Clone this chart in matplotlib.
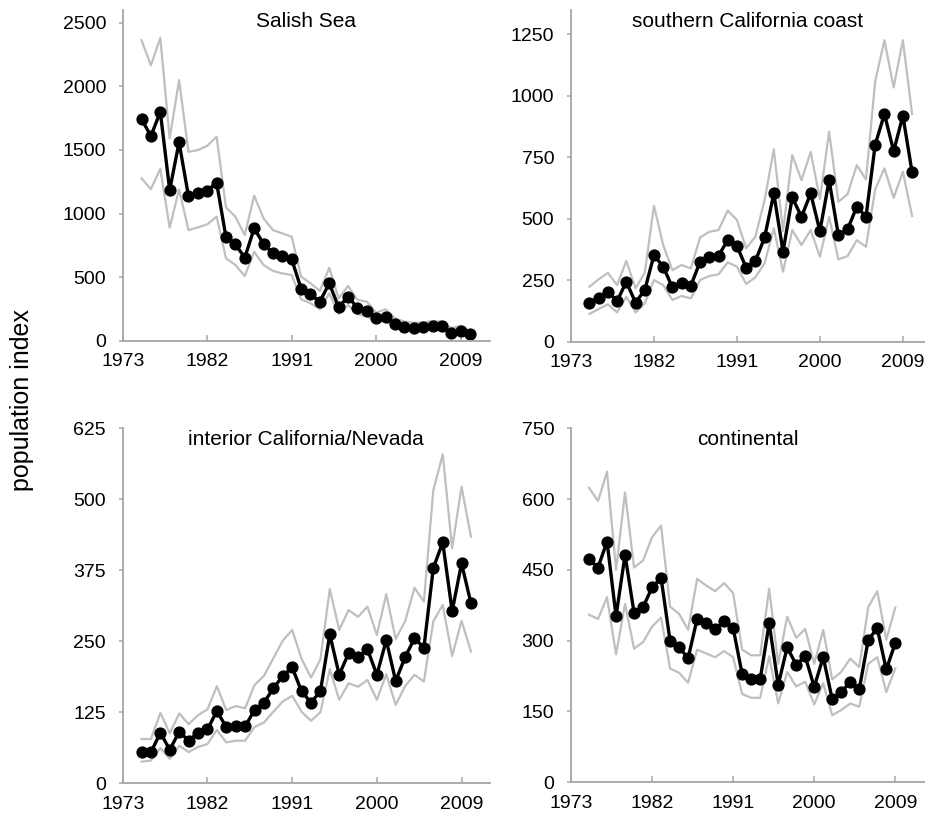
import numpy as np
import matplotlib
matplotlib.use('Agg')
import matplotlib.pyplot as plt

plt.rcParams['font.family'] = ['Liberation Sans', 'DejaVu Sans']

# years
years36 = np.arange(1975, 2011)
years35 = np.arange(1975, 2010)

# Salish Sea
salish_mean = [1743, 1609, 1800, 1185, 1560, 1138, 1159, 1180, 1243, 814, 759, 654, 885, 761, 688, 667, 641, 411,
               366, 309, 453, 264, 348, 260, 238, 178, 191, 133, 112, 105, 110, 120, 118, 65, 78, 52]
salish_upper = [2363, 2164, 2381, 1591, 2049, 1486, 1499, 1533, 1604, 1049, 976, 832, 1141, 963, 871, 845, 819, 505,
                453, 393, 575, 335, 432, 322, 309, 222, 249, 178, 152, 144, 144, 157, 152, 100, 120, 65]
salish_lower = [1277, 1193, 1353, 890, 1191, 871, 892, 916, 976, 649, 597, 510, 701, 597, 550, 531, 518, 327,
                296, 249, 374, 212, 283, 210, 195, 150, 160, 110, 90, 85, 88, 95, 95, 45, 55, 40]

# southern California coast
socal_mean = [159, 179, 203, 165, 244, 159, 210, 352, 305, 221, 240, 228, 325, 346, 350, 413, 390, 301,
              328, 424, 603, 366, 587, 508, 603, 450, 657, 434, 457, 549, 508, 802, 926, 775, 919, 689]
socal_upper = [224, 254, 280, 230, 329, 217, 280, 553, 393, 291, 312, 298, 424, 447, 454, 533, 495, 380,
               427, 576, 782, 450, 759, 657, 772, 580, 854, 569, 600, 718, 660, 1060, 1226, 1034, 1226, 926]
socal_lower = [113, 133, 152, 119, 183, 119, 156, 251, 230, 170, 186, 176, 251, 267, 274, 323, 305, 235,
               262, 319, 461, 285, 454, 393, 454, 346, 508, 335, 348, 413, 386, 620, 705, 585, 691, 511]

# interior California/Nevada
inter_mean = [55, 55, 89, 59, 91, 75, 89, 95, 127, 99, 101, 100, 129, 142, 167, 189, 204, 162,
              142, 162, 262, 191, 229, 222, 236, 191, 252, 180, 222, 255, 239, 379, 424, 303, 387, 317]
inter_upper = [78, 78, 124, 88, 123, 104, 120, 130, 171, 129, 136, 132, 173, 189, 220, 251, 270, 219,
               186, 218, 342, 270, 305, 293, 311, 261, 333, 254, 285, 344, 320, 516, 579, 414, 522, 434]
inter_lower = [38, 40, 62, 43, 66, 55, 64, 69, 94, 72, 75, 75, 99, 107, 126, 144, 154, 126,
               110, 125, 201, 147, 176, 170, 182, 147, 192, 138, 171, 191, 179, 285, 314, 224, 286, 232]

# continental
cont_mean = [472, 455, 510, 352, 482, 359, 371, 413, 433, 299, 286, 263, 346, 337, 325, 341, 327, 229,
             218, 218, 337, 206, 286, 249, 267, 202, 265, 176, 191, 213, 197, 302, 326, 239, 295]
cont_upper = [624, 596, 658, 450, 614, 455, 470, 519, 544, 372, 357, 323, 431, 417, 405, 422, 401, 281,
              269, 269, 410, 251, 351, 306, 325, 251, 323, 218, 234, 262, 244, 371, 405, 302, 370]
cont_lower = [355, 346, 392, 271, 378, 283, 297, 330, 349, 241, 232, 211, 281, 273, 265, 278, 265, 187,
              179, 179, 267, 167, 234, 203, 213, 165, 210, 142, 153, 167, 160, 251, 265, 191, 241]

xticks = [1973, 1982, 1991, 2000, 2009]

panels = [
    # title, years, mean, upper, lower, yticks, ylim top, xlim right, axes rect
    ('Salish Sea', years36, salish_mean, salish_upper, salish_lower,
     [0, 500, 1000, 1500, 2000, 2500], 2600, 2012.1, [0.1327, 0.5852, 0.3968, 0.4027]),
    ('southern California coast', years36, socal_mean, socal_upper, socal_lower,
     [0, 250, 500, 750, 1000, 1250], 1349, 2011.4, [0.6173, 0.5843, 0.3827, 0.4035]),
    ('interior California/Nevada', years36, inter_mean, inter_upper, inter_lower,
     [0, 125, 250, 375, 500, 625], 625, 2012.0, [0.1327, 0.0471, 0.3968, 0.4319]),
    ('continental', years35, cont_mean, cont_upper, cont_lower,
     [0, 150, 300, 450, 600, 750], 750, 2012.3, [0.6173, 0.0483, 0.3827, 0.4307]),
]

fig = plt.figure(figsize=(9.25, 8.22), dpi=100)
axis_grey = '#a6a6a6'

for title, yrs, mean, upper, lower, yticks, ytop, xright, rect in panels:
    ax = fig.add_axes(rect)
    ax.plot(yrs, upper, color='#bfbfbf', lw=1.6)
    ax.plot(yrs, lower, color='#bfbfbf', lw=1.6)
    ax.plot(yrs, mean, 'o-', color='black', lw=2.4, ms=7.8)

    ax.set_xlim(1973, xright)
    ax.set_ylim(0, ytop)
    ax.set_xticks(xticks)
    ax.set_yticks(yticks)

    for side in ['top', 'right']:
        ax.spines[side].set_visible(False)
    for side in ['left', 'bottom']:
        ax.spines[side].set_color(axis_grey)
        ax.spines[side].set_linewidth(1.3)

    ax.tick_params(axis='x', direction='in', length=4, width=1.1, color=axis_grey,
                   labelsize=14, pad=9)
    ax.tick_params(axis='y', direction='out', length=3, width=1.1, color=axis_grey,
                   labelsize=14, pad=9)

    ax.annotate(title, xy=(0.5, 1), xycoords='axes fraction', xytext=(0, -17),
                textcoords='offset pixels', ha='center', va='baseline', fontsize=15)

fig.text(0.024, 0.513, 'population index', rotation=90, ha='center', va='center', fontsize=18)

fig.savefig('out.png', dpi=100)
